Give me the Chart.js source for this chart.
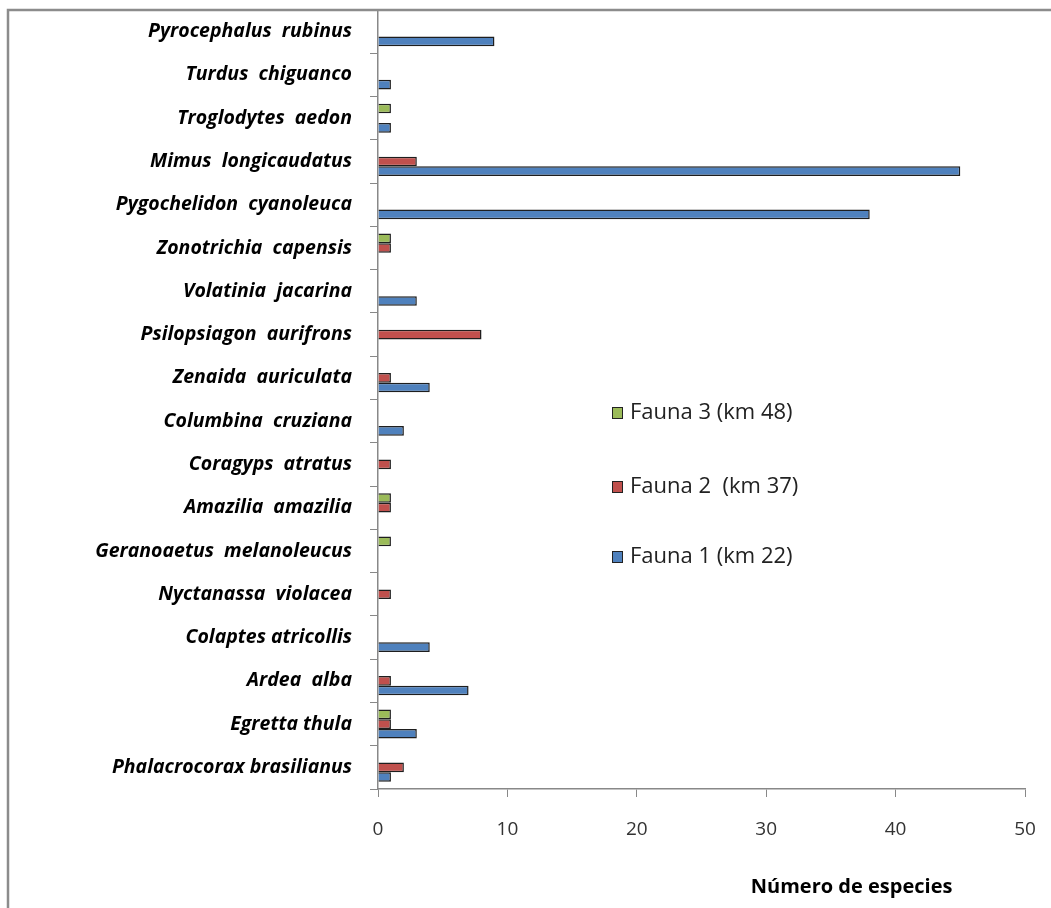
<!DOCTYPE html>
<html>
<head>
<meta charset="utf-8">
<script src="https://cdn.jsdelivr.net/npm/chart.js@4/dist/chart.umd.min.js"></script>
<style>
html,body{margin:0;padding:0;background:#fff;}
#wrap{width:1051px;height:908px;position:relative;}
</style>
</head>
<body>
<div id="wrap"><canvas id="c" width="1051" height="908"></canvas></div>
<script>
const categories = [
  "Pyrocephalus  rubinus", "Turdus  chiguanco", "Troglodytes  aedon", "Mimus  longicaudatus",
  "Pygochelidon  cyanoleuca", "Zonotrichia  capensis", "Volatinia  jacarina", "Psilopsiagon  aurifrons",
  "Zenaida  auriculata", "Columbina  cruziana", "Coragyps  atratus", "Amazilia  amazilia",
  "Geranoaetus  melanoleucus", "Nyctanassa  violacea", "Colaptes atricollis", "Ardea  alba",
  "Egretta thula", "Phalacrocorax brasilianus"
];
const fauna3 = [null, null, 1, null, null, 1, null, null, null, null, null, 1, 1, null, null, null, 1, null];
const fauna2 = [null, null, null, 3, null, 1, null, 8, 1, null, 1, 1, null, 1, null, 1, 1, 2];
const fauna1 = [9, 1, 1, 45, 38, null, 3, null, 4, 2, null, null, null, null, 4, 7, 3, 1];
const seriesLabels = ["Fauna 3 (km 48)", "Fauna 2  (km 37)", "Fauna 1 (km 22)"];
const xTicks = [0, 10, 20, 30, 40, 50];
const axisTitle = "Número de especies";

const colors = ["#9BBB59", "#C0504D", "#4F81BD"];

const framePlugin = {
  id: 'frame',
  afterDraw(chart) {
    const ctx = chart.ctx;
    ctx.save();
    ctx.strokeStyle = '#8c8c8c';
    ctx.lineWidth = 2.5;
    ctx.beginPath();
    ctx.moveTo(8, 908);
    ctx.lineTo(8, 10);
    ctx.lineTo(1051, 10);
    ctx.stroke();
    // axis title
    const xs = chart.scales.x;
    ctx.fillStyle = '#000';
    ctx.font = 'bold 20px "Open Sans"';
    ctx.textAlign = 'center';
    ctx.textBaseline = 'middle';
    ctx.fillText(axisTitle, xs.getPixelForValue(36.6), 887);
    // legend
    const ys = [413, 487, 557];
    chart.data.datasets.forEach((ds, i) => {
      ctx.fillStyle = ds.backgroundColor;
      ctx.fillRect(612, ys[i] - 6, 11, 12);
      ctx.strokeStyle = '#222';
      ctx.lineWidth = 1;
      ctx.strokeRect(612.5, ys[i] - 5.5, 10, 11);
      ctx.fillStyle = '#222';
      ctx.font = '22px "Open Sans"';
      ctx.textAlign = 'left';
      ctx.fillText(ds.label, 630, ys[i]);
    });
    ctx.restore();
  }
};

new Chart(document.getElementById('c'), {
  type: 'bar',
  data: {
    labels: categories,
    datasets: [
      { label: seriesLabels[0], data: fauna3, backgroundColor: colors[0] },
      { label: seriesLabels[1], data: fauna2, backgroundColor: colors[1] },
      { label: seriesLabels[2], data: fauna1, backgroundColor: colors[2] }
    ].map(d => Object.assign(d, { borderColor: '#1e1e1e', borderWidth: 1.5, categoryPercentage: 0.67, barPercentage: 1.0 }))
  },
  options: {
    indexAxis: 'y',
    responsive: false,
    animation: false,
    layout: { padding: { left: 0, right: 26, top: 10, bottom: 0 } },
    plugins: { legend: { display: false }, tooltip: { enabled: false } },
    scales: {
      x: {
        min: 0, max: 50,
        afterBuildTicks(scale) { scale.ticks = xTicks.map(v => ({ value: v })); },
        afterFit(scale) { scale.height = 908 - 789; scale.paddingLeft = 0; scale.paddingRight = 0; },
        grid: { drawOnChartArea: false, drawTicks: true, tickLength: 8, color: '#888' },
        border: { color: '#888', width: 1.5 },
        ticks: { color: '#333', font: { family: 'Open Sans', size: 19 }, padding: 21 }
      },
      y: {
        afterFit(scale) { scale.width = 378; scale.paddingTop = 0; scale.paddingBottom = 0; },
        grid: { drawOnChartArea: false, drawTicks: true, tickLength: 8, color: '#888', offset: true },
        border: { color: '#888', width: 1.5 },
        ticks: { color: '#000', font: { family: 'Open Sans', size: 19.5, style: 'italic', weight: 'bold' }, padding: 18, autoSkip: false }
      }
    }
  },
  plugins: [framePlugin]
});
</script>
</body>
</html>
